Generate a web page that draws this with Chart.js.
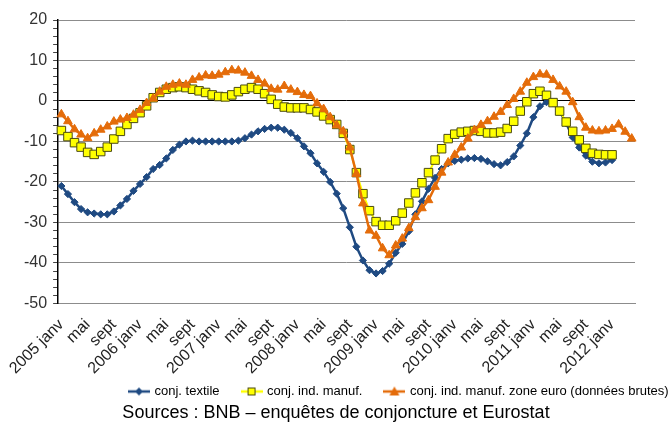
<!DOCTYPE html>
<html>
<head>
<meta charset="utf-8">
<script src="https://cdn.jsdelivr.net/npm/chart.js@4.4.1/dist/chart.umd.min.js"></script>
<style>
  html, body { margin: 0; padding: 0; background: #fff; }
  #wrap { width: 672px; height: 426px; }
</style>
</head>
<body>
<div id="wrap"><canvas id="chart" width="672" height="426"></canvas></div>
<script>
const years = [2005, 2006, 2007, 2008, 2009, 2010, 2011, 2012];
const monthNames = ['janv', 'févr', 'mars', 'avr', 'mai', 'juin', 'juil', 'août', 'sept', 'oct', 'nov', 'déc'];
const lastMonth = 4; // data runs to 2012 avr

// conj. textile
const textile = [
  -21, -23, -25, -26.7, -27.5, -27.8, -28, -28, -27.3, -25.8,
  -24.2, -22.2, -20.5, -18.8, -16.8, -15.8, -14.2, -12.1, -10.8, -10,
  -9.8, -10, -10, -10, -10, -10, -10, -9.8, -9.2, -8.3,
  -7.5, -6.9, -6.6, -6.6, -7.1, -7.9, -9.2, -11.2, -12.9, -15.4,
  -17.5, -20, -22.9, -26.5, -31.2, -36, -39.4, -41.8, -42.6, -42,
  -40.2, -37.5, -35.3, -32.2, -28, -24.8, -21.7, -19, -16.8, -15.4,
  -14.8, -14.5, -14.2, -14.1, -14.3, -14.9, -15.6, -15.9, -15.1, -13.7,
  -11, -8, -4, -1.3, -0.3, -0.5, -2.5, -5.5, -9, -11.5,
  -13.5, -15, -15.4, -15.2, -14.6
];

// conj. ind. manuf.
const manuf = [
  -7.3, -8.8, -10.3, -11.4, -12.7, -13.2, -12.5, -11.4, -9.4, -7.5,
  -5.8, -4.3, -2.9, -1.2, 0.8, 2.1, 2.9, 3.3, 3.5, 3.3,
  2.9, 2.5, 2.1, 1.5, 1.1, 1, 1.5, 2.3, 2.9, 3.3,
  2.9, 1.8, 0.4, -0.8, -1.5, -1.7, -1.7, -1.7, -2.1, -2.7,
  -3.7, -4.6, -5.8, -8, -12, -17.7, -22.9, -27.1, -29.8, -30.7,
  -30.7, -29.6, -27.7, -25.2, -22.7, -20.2, -17.7, -14.6, -11.8, -9.3,
  -8.2, -7.7, -7.5, -7.3, -7.5, -7.9, -7.9, -7.7, -6.8, -5,
  -2.5, -0.2, 1.8, 2.4, 1.4, -0.4, -2.5, -5.2, -7.5, -9.6,
  -11.7, -12.9, -13.2, -13.3, -13.3
];

// conj. ind. manuf. zone euro (données brutes)
const euro = [
  -3.3, -5, -7, -8.3, -9.2, -8, -7.1, -6.3, -5.1, -4.6,
  -4.2, -3.4, -2.2, -0.5, 0.6, 2.3, 3.5, 4, 4.3, 4,
  5.2, 5.8, 6.3, 6.2, 6.5, 7.1, 7.6, 7.5, 7, 6.2,
  5.2, 4.3, 3, 2.8, 3.7, 2.8, 2.2, 1.5, 1.2, -0.6,
  -2, -4, -6, -7.5, -11.5, -18, -25.3, -32, -33.3, -36.4,
  -38.1, -35.7, -34, -31.4, -28.7, -26.5, -24.5, -21.2, -17.7, -15.2,
  -13.3, -11.5, -9.3, -7.2, -5.9, -5, -3.9, -2.7, -1, 0.5,
  2.3, 4.5, 5.9, 6.6, 6.5, 5.2, 3.6, 2.3, -0.3, -4,
  -6.6, -7.3, -7.5, -7.3, -6.9, -5.8, -7.6, -9.3
];

const seriesNames = ['conj. textile', 'conj. ind. manuf.', 'conj. ind. manuf. zone euro (données brutes)'];
const sourceText = 'Sources : BNB – enquêtes de conjoncture et Eurostat';

// category labels: "2005 janv", "févr", ... one per month
const categories = [];
years.forEach(y => {
  monthNames.forEach((m, i) => {
    if (y === years[years.length - 1] && i >= lastMonth) return;
    categories.push(i === 0 ? y + ' ' + m : m);
  });
});

const FONT = '"Liberation Sans", Arial, sans-serif';

const BLUE = '#1F4A82';
const YELLOW = '#FFFF00';
const YELLOW_EDGE = '#4a4a10';
const ORANGE = '#E46C0A';

// little legend pictures: line with marker in the middle
function legendIcon(kind) {
  const c = document.createElement('canvas');
  c.width = 22; c.height = 12;
  const g = c.getContext('2d');
  g.lineWidth = 2.5;
  g.strokeStyle = kind === 'rect' ? YELLOW : (kind === 'rectRot' ? BLUE : ORANGE);
  g.beginPath(); g.moveTo(0, 6); g.lineTo(22, 6); g.stroke();
  if (kind === 'rectRot') {
    g.fillStyle = BLUE;
    g.beginPath(); g.moveTo(11, 2); g.lineTo(15, 6); g.lineTo(11, 10); g.lineTo(7, 6); g.closePath(); g.fill();
  } else if (kind === 'rect') {
    g.fillStyle = YELLOW; g.strokeStyle = YELLOW_EDGE; g.lineWidth = 1;
    g.fillRect(7, 2, 8, 8); g.strokeRect(7.5, 2.5, 7, 7);
  } else {
    g.fillStyle = ORANGE;
    g.beginPath(); g.moveTo(11, 1); g.lineTo(16, 10); g.lineTo(6, 10); g.closePath(); g.fill();
  }
  return c;
}
const icons = [legendIcon('rectRot'), legendIcon('rect'), legendIcon('triangle')];

// put the legend row where the original has it
const legendPlace = {
  id: 'legendPlace',
  afterLayout(chart) {
    const lg = chart.legend;
    const w = lg.right - lg.left, h = lg.bottom - lg.top;
    lg.left = 107; lg.right = lg.left + w;
    lg.top = 362; lg.bottom = lg.top + h;
  }
};

const ctx = document.getElementById('chart').getContext('2d');
const chart = new Chart(ctx, {
  type: 'line',
  data: {
    labels: categories,
    datasets: [
      {
        label: seriesNames[0], data: textile, order: 3,
        borderColor: BLUE, backgroundColor: BLUE, borderWidth: 2.5,
        pointStyle: 'rectRot', pointRadius: 3.6, pointBackgroundColor: BLUE, pointBorderColor: BLUE, pointBorderWidth: 1
      },
      {
        label: seriesNames[1], data: manuf, order: 2,
        borderColor: YELLOW, backgroundColor: YELLOW, borderWidth: 2,
        pointStyle: 'rect', pointRadius: 6, pointBackgroundColor: YELLOW, pointBorderColor: YELLOW_EDGE, pointBorderWidth: 1
      },
      {
        label: seriesNames[2], data: euro, order: 1,
        borderColor: ORANGE, backgroundColor: ORANGE, borderWidth: 2.5,
        pointStyle: 'triangle', pointRadius: 5, pointBackgroundColor: ORANGE, pointBorderColor: ORANGE, pointBorderWidth: 1
      }
    ]
  },
  options: {
    responsive: false,
    animation: false,
    layout: { padding: { top: 20, left: 0, right: 0, bottom: 0 } },
    elements: { line: { tension: 0 } },
    scales: {
      x: {
        offset: true,
        grid: { display: false, drawTicks: false },
        border: { display: true, color: '#8c8c8c', width: 1 },
        ticks: {
          autoSkip: false, maxRotation: 45, minRotation: 45, padding: 12,
          color: '#222', font: { family: FONT, size: 16 },
          callback: function (v, i) { return i % 4 === 0 ? this.getLabelForValue(v) : ''; }
        },
        afterFit: s => {
          s.height = 53;
          // long rotated labels hang below the axis box: don't clip them
          s._computeLabelArea = () => null;
        }
      },
      y: {
        min: -50, max: 20,
        grid: {
          color: c => c.tick.value === 0 ? '#000' : (c.tick.value % 10 === 0 ? '#8c8c8c' : 'rgba(0,0,0,0)'),
          tickColor: '#444', tickLength: 5, lineWidth: 1
        },
        border: { display: true, color: '#000', width: 1.5 },
        ticks: {
          stepSize: 2, autoSkip: false, padding: 6, color: '#333', font: { family: FONT, size: 16 },
          callback: v => v % 10 === 0 ? v : ''
        },
        afterFit: s => { s.width = 57; }
      },
      yPad: {
        position: 'right', display: true,
        grid: { display: false }, border: { display: false },
        ticks: { display: false },
        afterFit: s => { s.width = 37; }
      }
    },
    plugins: {
      tooltip: { enabled: false },
      legend: {
        position: 'bottom', align: 'start',
        labels: {
          usePointStyle: true, pointStyleWidth: 18, padding: 23,
          color: '#000', font: { family: FONT, size: 13 },
          generateLabels: c => c.data.datasets.map((ds, i) => ({
            text: ds.label, pointStyle: icons[i], datasetIndex: i,
            fillStyle: 'transparent', strokeStyle: 'transparent', lineWidth: 0, hidden: false, fontColor: '#000'
          }))
        }
      },
      title: {
        display: true, position: 'bottom', text: sourceText,
        color: '#000', font: { family: FONT, size: 18, weight: 'normal' },
        padding: { top: 0, bottom: 2 }
      }
    }
  },
  plugins: [legendPlace]
});
</script>
</body>
</html>
